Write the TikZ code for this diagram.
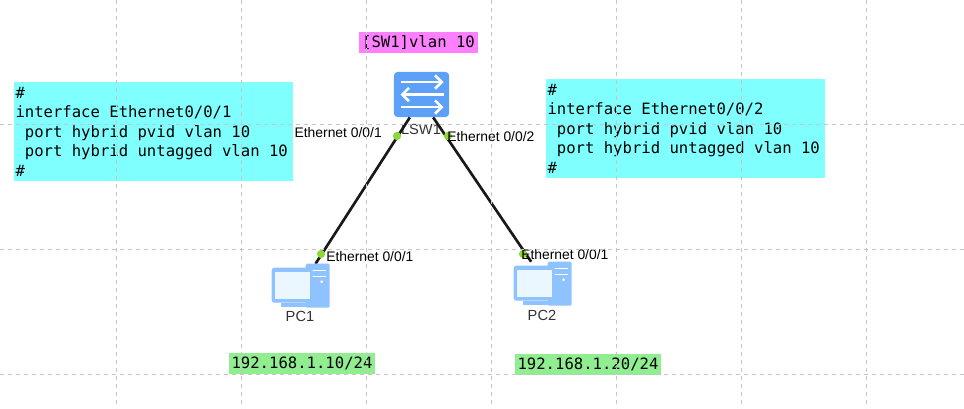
\documentclass[tikz,border=0pt]{standalone}
\usepackage{fontspec}
\usetikzlibrary{arrows.meta}
\setmainfont{Liberation Sans}
\setmonofont{DejaVu Sans Mono}
\definecolor{cfgcyan}{HTML}{80FFFF}
\definecolor{cmdpink}{HTML}{FF80FF}
\definecolor{ipgreen}{HTML}{90EE90}
\definecolor{swblue}{HTML}{5CA0F8}
\definecolor{pcblue}{HTML}{8FC3FF}
\definecolor{pcscreen}{HTML}{EAF7FF}
\definecolor{dotgreen}{HTML}{8FD63C}
\begin{document}
\begin{tikzpicture}[x=0.75pt, y=-0.75pt,
    mono/.style = {inner sep=0pt, outer sep=0pt, font=\fontsize{11.7}{14.6}\ttfamily\selectfont},
    cfg/.style = {mono, fill=cfgcyan, minimum width=209.25pt, minimum height=74.25pt, align=flush left, text width=207pt},
    cmd/.style = {mono, fill=cmdpink, minimum width=89.25pt, minimum height=15.75pt},
    ip/.style = {mono, fill=ipgreen, minimum width=109.5pt, minimum height=15.75pt},
    lbl/.style = {inner sep=0pt, font=\fontsize{10.4}{11}\selectfont},
    dev/.style = {inner sep=0pt, font=\fontsize{11}{12}\selectfont, text=black!80},
    lnk/.style = {line width=2pt, black!90},
    portdot/.style = {circle, fill=dotgreen, inner sep=0pt, minimum size=6.2pt},
    sw/.style = {rectangle, rounded corners=3pt, fill=swblue, inner sep=0pt, minimum width=41.5pt, minimum height=34pt},
    pcicon/.style = {rectangle, inner sep=0pt, minimum width=43.5pt, minimum height=34.5pt}]
    \useasboundingbox (0,0) rectangle (964,408);

    \node[sw] (LSW1) at (421.5,94.5) {};
    \begin{scope}[white, line width=1.9pt, shift={(LSW1.center)}, -{Straight Barb[length=5pt,width=10pt]}]
        \draw (-21,-12.5) -- (22,-12.5);
        \draw (22,0) -- (-21,0);
        \draw (-21,12.5) -- (22,12.5);
    \end{scope}
    \node[pcicon] (PC1) at (301,287) {};
    \node[pcicon] (PC2) at (543,285) {};
    \node[dev] (l0) at (421,129) {LSW1};
    \node[dev] (l1) at (300,316) {PC1};
    \node[dev] (l2) at (542,315) {PC2};

    \draw[lnk] (LSW1.-117) to (PC1.58);
    \draw[lnk] (LSW1.-63) to (PC2.117);

    \foreach \n in {PC1,PC2} {
        \begin{scope}[shift={(\n.north west)}]
            \fill[pcblue, rounded corners=1pt] (34,0) rectangle (58,44);
            \fill[white] (38,6) rectangle (54,7.5);
            \fill[white] (38,12) rectangle (54,13.5);
            \fill[white] (50,18) circle (1.5);
            \fill[pcblue, rounded corners=2pt] (0,4) rectangle (41,39);
            \fill[pcscreen] (3,8) rectangle (38,35);
            \fill[pcblue] (9,39) rectangle (36,43);
        \end{scope}
    }

    \node[portdot] (d1) at (397,136) {};
    \node[portdot] (d2) at (448,136) {};
    \node[portdot] (d3) at (321,254) {};
    \node[portdot] (d4) at (523,254) {};
    \node[lbl, left] (t1) at (382,133) {Ethernet 0/0/1};
    \node[lbl, right] (t2) at (447,137) {Ethernet 0/0/2};
    \node[lbl, right] (t3) at (326,257) {Ethernet 0/0/1};
    \node[lbl, right] (t4) at (521,255) {Ethernet 0/0/1};

    \node[cmd] (c0) at (418.5,42.5) {[SW1]vlan 10};
    \node[cfg] (c1) at (153.5,131.5) {\#\\interface Ethernet0/0/1\\\ port hybrid pvid vlan 10\\\ port hybrid untagged vlan 10\\\#};
    \node[cfg] (c2) at (685.5,128.5) {\#\\interface Ethernet0/0/2\\\ port hybrid pvid vlan 10\\\ port hybrid untagged vlan 10\\\#};
    \node[ip] (i1) at (302,363.5) {192.168.1.10/24};
    \node[ip] (i2) at (588,364.5) {192.168.1.20/24};

    \foreach \x in {116,241,366,491,616,741,866}
        \draw[gray!45, dashed, line width=0.5pt] (\x,0) -- (\x,408);
    \foreach \y in {124,249,374}
        \draw[gray!45, dashed, line width=0.5pt] (0,\y) -- (964,\y);
\end{tikzpicture}
\end{document}
